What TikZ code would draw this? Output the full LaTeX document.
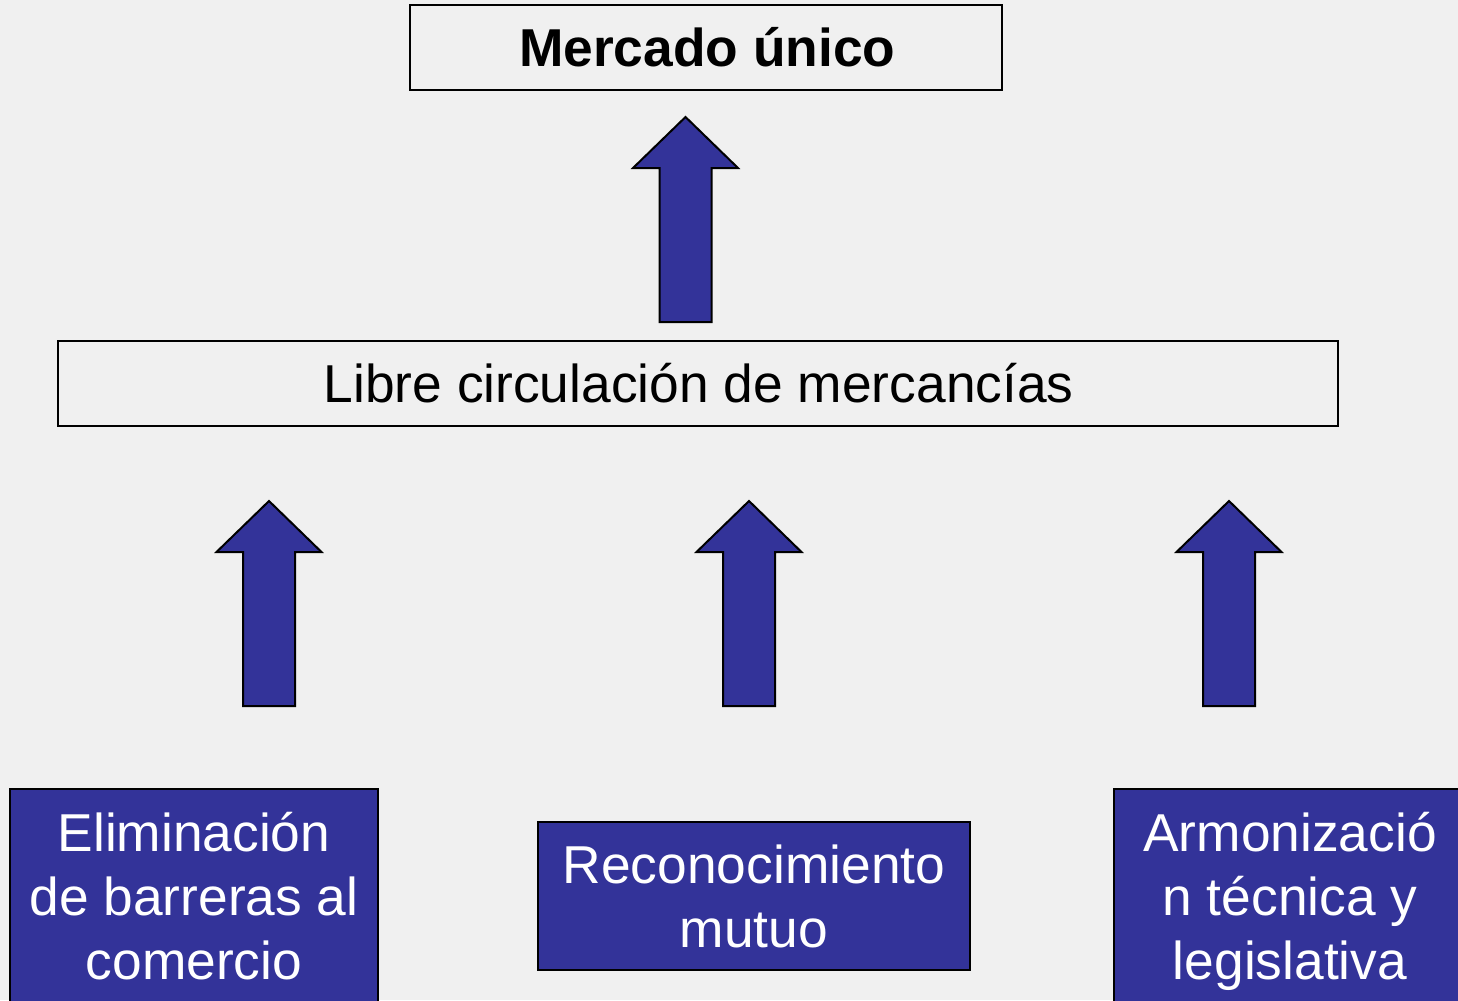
\documentclass[tikz,border=0pt]{standalone}
\usepackage{fontspec}
\setmainfont{Liberation Sans}
\definecolor{bgc}{HTML}{F0F0F0}
\definecolor{navy}{HTML}{333399}
\begin{document}
\begin{tikzpicture}[x=0.75pt,y=-0.75pt,
  whitebox/.style={draw=black,line width=1.5pt,fill=none,inner sep=0pt,align=center,
    font=\fontsize{40}{48}\selectfont},
  bluebox/.style={draw=black,line width=1.5pt,fill=navy,text=white,inner sep=0pt,align=center,
    font=\fontsize{40}{48}\selectfont},
  blockarrow/.style={draw=black,line width=1.5pt,fill=navy,line join=miter},
  uparr/.pic={\path[blockarrow] (0,0) -- (52.5,51) -- (26,51) -- (26,205) -- (-26,205) -- (-26,51) -- (-52.5,51) -- cycle;}
]
\useasboundingbox (0,0) rectangle (1458,1000);
\clip (0,0) rectangle (1458,1000);
\fill[bgc] (0,0) rectangle (1458,1000);

\node[whitebox,minimum width=444pt,minimum height=63.75pt,font=\fontsize{40}{48}\selectfont\bfseries] (mercado) at (706,47.5) {\hspace*{2pt}Mercado único};
\node[whitebox,minimum width=960pt,minimum height=63.75pt] (libre) at (698,383.5) {\hspace*{1pt}Libre circulación de mercancías};

\node[bluebox,minimum width=276pt,minimum height=160.5pt] (elim) at (194,896) {Eliminación\\de barreras al\\comercio};
\node[bluebox,minimum width=324pt,minimum height=111pt] (recon) at (754,896) {Reconocimiento\\mutuo};
\node[bluebox,minimum width=264pt,minimum height=168.75pt] (armon) at (1290,901.5) {Armonizació\\n técnica y\\legislativa};

\pic (a0) at (685.5,117) {uparr};
\pic (a1) at (269,501) {uparr};
\pic (a2) at (749,501) {uparr};
\pic (a3) at (1229,501) {uparr};
\end{tikzpicture}
\end{document}
